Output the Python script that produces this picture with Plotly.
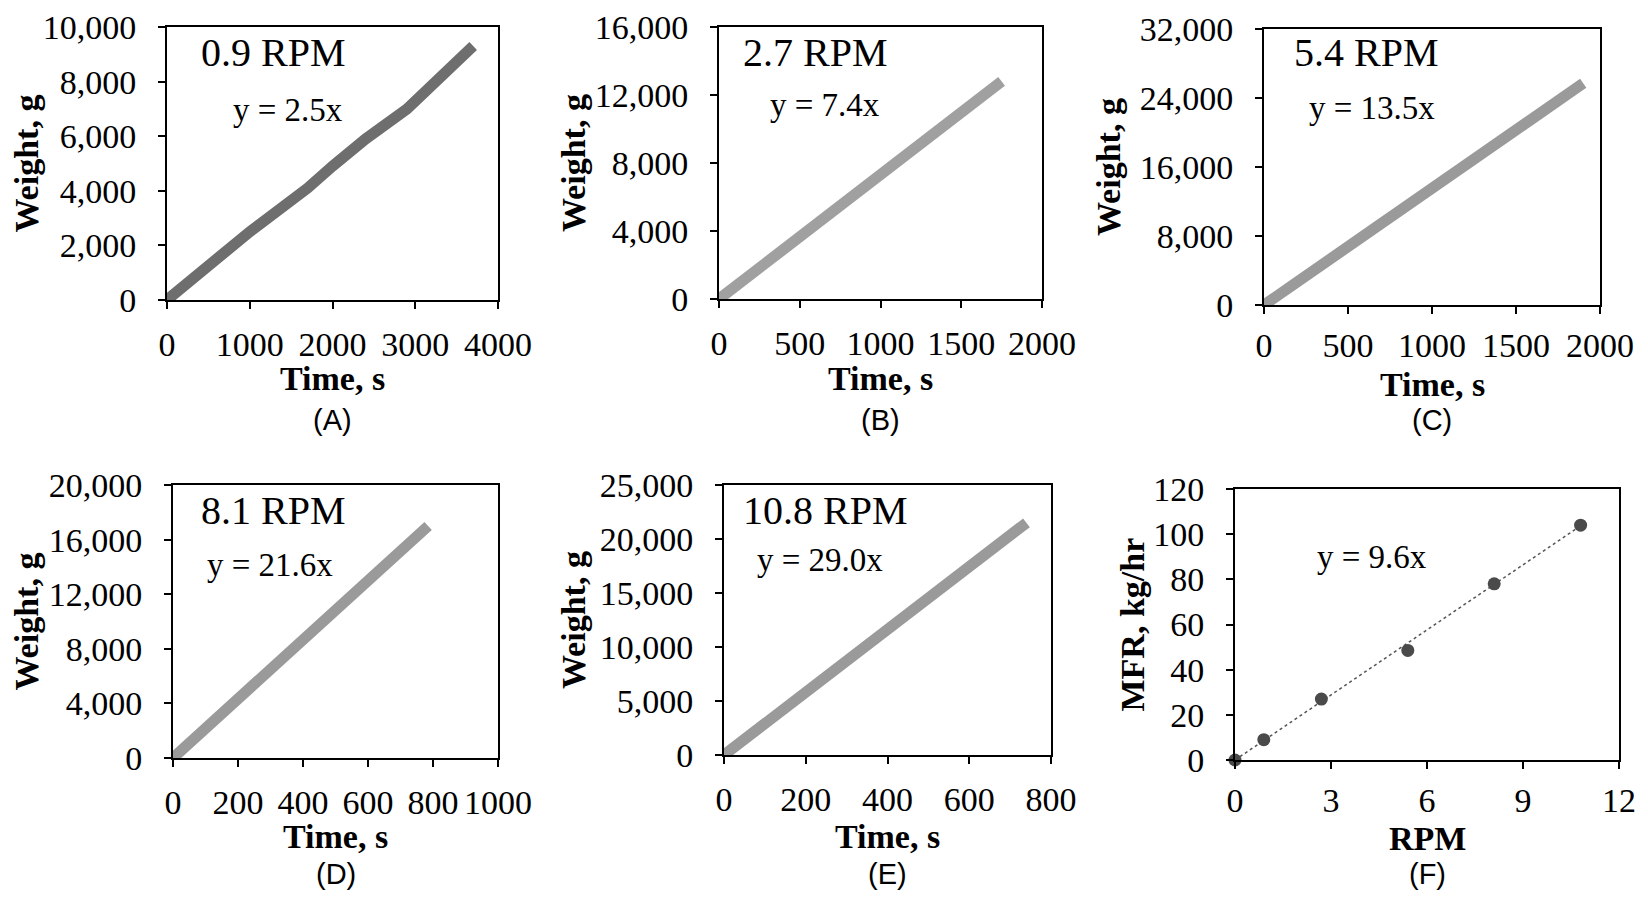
import plotly.graph_objects as go

# Browser adds an 8px body margin; figure is sized to fit the 1648x907 window exactly.
OFF = 8
W, H = 1648 - 2 * OFF, 907 - 2 * OFF

# ---- data ----
a_time = [0, 300, 600, 1000, 1400, 1700, 2000, 2400, 2900, 3300, 3700]
a_weight = [0, 800, 1500, 2500, 3400, 4100, 4900, 5900, 7000, 8100, 9300]
b_time = [0, 500, 1000, 1500, 1750]
b_weight = [0, 3650, 7300, 10950, 12800]
c_time = [0, 500, 1000, 1500, 1900]
c_weight = [0, 6750, 13500, 20250, 25700]
d_time = [0, 200, 400, 600, 785]
d_weight = [0, 4300, 8600, 13000, 17000]
e_time = [0, 200, 400, 600, 740]
e_weight = [0, 5800, 11600, 17400, 21500]
f_rpm = [0, 0.9, 2.7, 5.4, 8.1, 10.8]
f_mfr = [0, 9, 27, 48.5, 78, 104]
f_fit_rpm = [0, 10.8]
f_fit_mfr = [0, 103.7]

rpm_labels = ["0.9 RPM", "2.7 RPM", "5.4 RPM", "8.1 RPM", "10.8 RPM", None]
eq_labels = ["y = 2.5x", "y = 7.4x", "y = 13.5x", "y = 21.6x", "y = 29.0x", "y = 9.6x"]
panel_labels = ["(A)", "(B)", "(C)", "(D)", "(E)", "(F)"]
x_titles = ["Time, s"] * 5 + ["RPM"]
y_titles = ["Weight, g"] * 5 + ["MFR, kg/hr"]
x_ranges = [[0, 4000], [0, 2000], [0, 2000], [0, 1000], [0, 800], [0, 12]]
x_dticks = [1000, 500, 500, 200, 200, 3]
y_ranges = [[0, 10000], [0, 16000], [0, 32000], [0, 20000], [0, 25000], [0, 120]]
y_dticks = [2000, 4000, 8000, 4000, 5000, 20]

# ---- layout geometry (window pixels) ----
boxes = [  # left, right, top, bottom
    (167, 498, 27, 300),
    (719, 1042, 27, 299),
    (1264, 1600, 29, 305),
    (173, 498, 485, 758),
    (724, 1051, 485, 755),
    (1235, 1619, 489, 760),
]
rpm_pos = [(273, 53), (815, 53), (1366, 53), (273, 510), (825, 510), None]
eq_pos = [(288, 110), (825, 105), (1372, 108), (270, 565), (820, 560), (1372, 557)]
ytitle_x = [26, 573, 1109, 26, 573, 1132]
xtitle_y = [378, 378, 384, 836, 836, 838]
plabel_y = [420, 420, 420, 874, 874, 874]

def px(x):
    return (x - OFF) / W

def py(y):
    return 1 - (y - OFF) / H

serif = "Liberation Serif"
fig = go.Figure()

series = [(a_time, a_weight, "#6e6e6e"), (b_time, b_weight, "#a0a0a0"),
          (c_time, c_weight, "#9a9a9a"), (d_time, d_weight, "#9a9a9a"),
          (e_time, e_weight, "#9a9a9a")]

def note(text, x, y, size, family=serif, angle=0):
    fig.add_annotation(text=text, x=px(x), y=py(y), xref="paper", yref="paper",
                       xanchor="center", yanchor="middle", showarrow=False,
                       textangle=angle, font=dict(family=family, size=size, color="black"))

for i in range(6):
    xa = "x" if i == 0 else f"x{i+1}"
    ya = "y" if i == 0 else f"y{i+1}"
    l, r, t, b = boxes[i]
    axis_common = dict(showline=True, mirror=True, linecolor="black", linewidth=2,
                       ticks="outside", ticklen=7, tickwidth=1.5, tickcolor="black",
                       showgrid=False, zeroline=False, automargin=False,
                       tickfont=dict(family=serif, size=34, color="black"))
    fig.layout[f"xaxis{'' if i == 0 else i+1}"] = dict(
        domain=[px(l), px(r)], anchor=ya, range=x_ranges[i], dtick=x_dticks[i],
        tick0=0, tickangle=0, tickformat="d",
        ticklabelstandoff=2 if i in (2, 5) else 6, **axis_common)
    fig.layout[f"yaxis{'' if i == 0 else i+1}"] = dict(
        domain=[py(b), py(t)], anchor=xa, range=y_ranges[i], dtick=y_dticks[i],
        tick0=0, tickformat=",d", ticklabelstandoff=15, **axis_common)

    if i < 5:
        xs, ys, col = series[i]
        fig.add_trace(go.Scatter(x=xs, y=ys, mode="lines", xaxis=xa, yaxis=ya,
                                 line=dict(color=col, width=11), showlegend=False))
    else:
        fig.add_trace(go.Scatter(x=f_fit_rpm, y=f_fit_mfr, mode="lines", xaxis=xa, yaxis=ya,
                                 line=dict(color="#555555", width=1.5, dash="dot"),
                                 showlegend=False))
        fig.add_trace(go.Scatter(x=f_rpm, y=f_mfr, mode="markers", xaxis=xa, yaxis=ya,
                                 marker=dict(color="#4a4a4a", size=13), cliponaxis=False,
                                 showlegend=False))

    cx = (l + r) / 2
    cy = (t + b) / 2
    if rpm_labels[i]:
        note(rpm_labels[i], rpm_pos[i][0], rpm_pos[i][1], 40)
    note(eq_labels[i], eq_pos[i][0], eq_pos[i][1], 33)
    note(f"<b>{y_titles[i]}</b>", ytitle_x[i], cy, 34, angle=-90)
    note(f"<b>{x_titles[i]}</b>", cx, xtitle_y[i], 34)
    note(panel_labels[i], cx, plabel_y[i], 29, family="Liberation Sans")

fig.update_layout(width=W, height=H, margin=dict(l=0, r=0, t=0, b=0, autoexpand=False),
                  paper_bgcolor="white", plot_bgcolor="white", showlegend=False)

fig.write_html("out.html")
